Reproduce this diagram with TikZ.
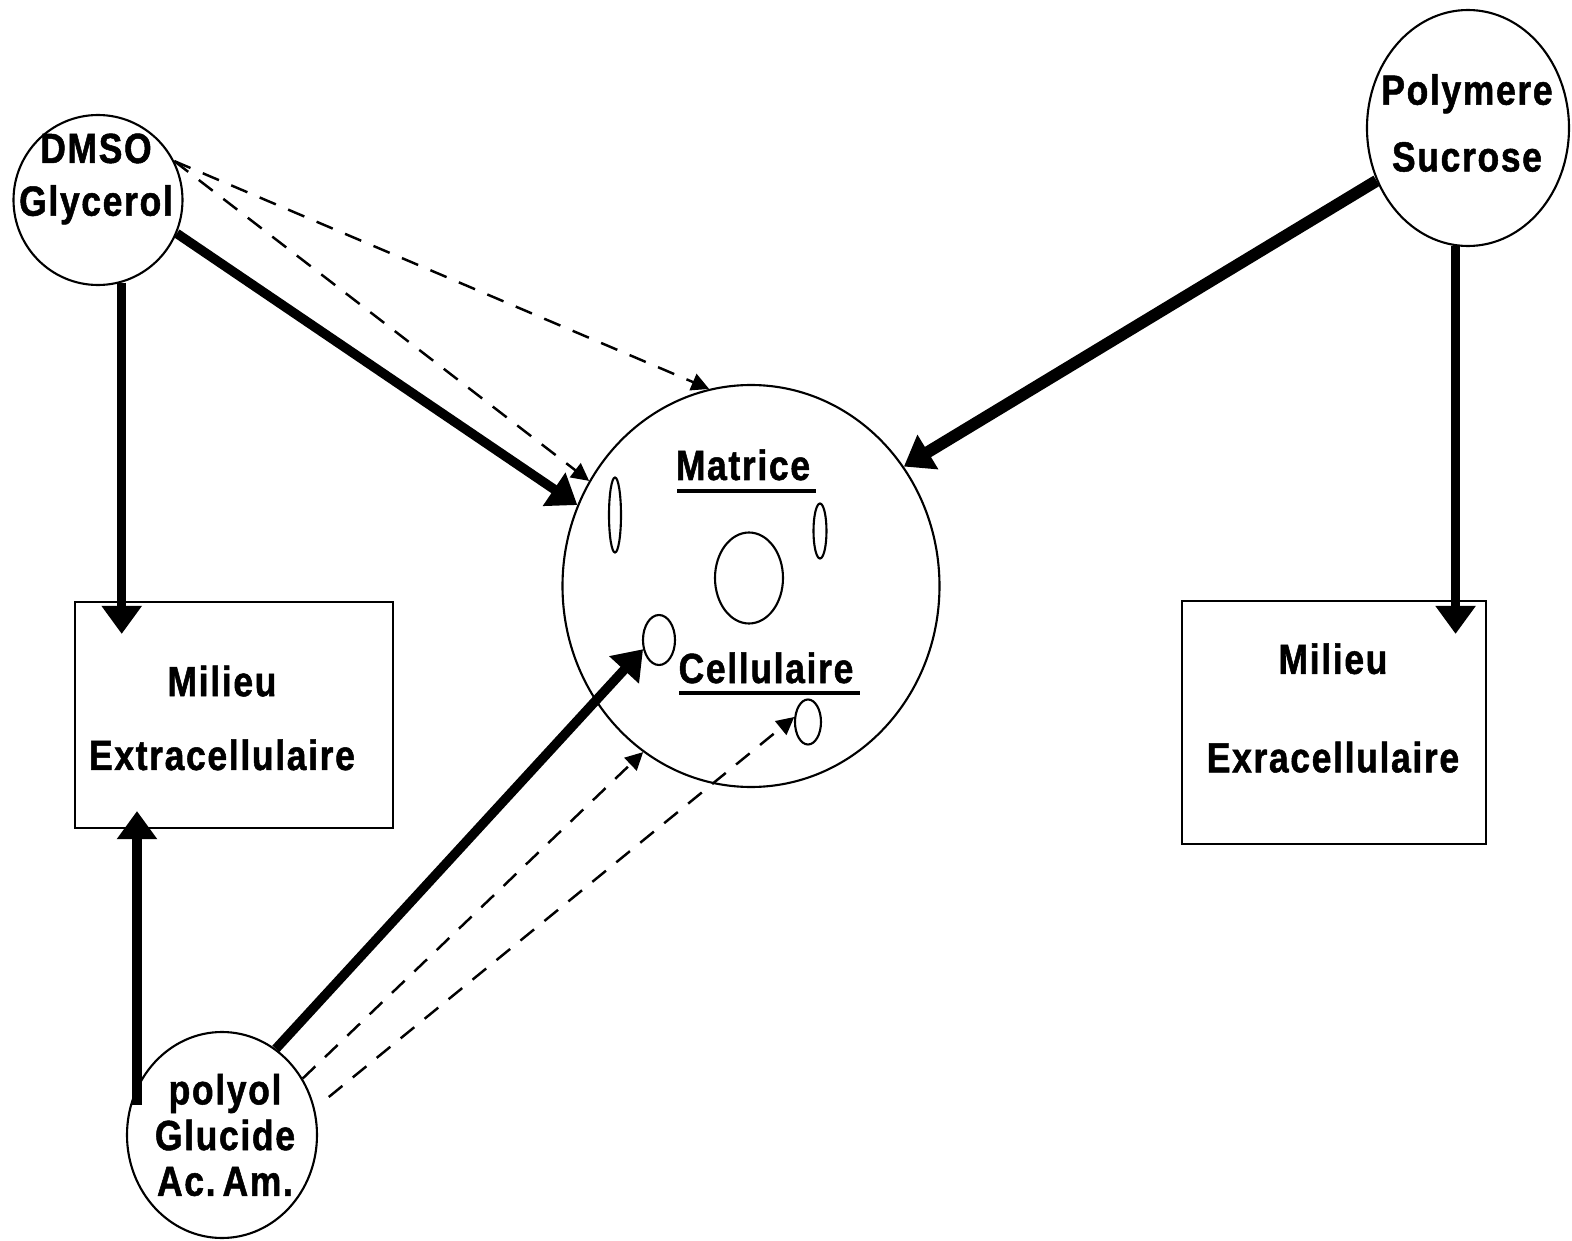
\documentclass[tikz,border=0pt]{standalone}
\usepackage{fontspec}
\setmainfont{Liberation Sans}[FakeStretch=0.84, LetterSpace=4, BoldFeatures={FakeBold=1.2}]
\usetikzlibrary{shapes.geometric,arrows.meta}

\tikzset{
    blob/.style={draw, ellipse, line width=0.6pt, inner sep=0pt},
    lbl/.style={font=\fontsize{12}{14}\selectfont\bfseries, align=center, inner sep=0pt},
    bigarrow/.style={line width=2.7pt, -{Triangle[length=8pt,width=11pt]}},
    dasharrow/.style={line width=0.7pt, dash pattern=on 5pt off 3.8pt, -{Triangle[length=5pt,width=5pt]}}
}

\begin{document}
\begin{tikzpicture}
\useasboundingbox (0,0) rectangle (15.72,12.40);

    \node[blob, minimum width=1.69cm, minimum height=1.70cm] (dmso) at (0.98,10.40) {};
    \node[blob, minimum width=2.02cm, minimum height=2.36cm] (poly) at (14.68,11.12) {};
    \node[blob, minimum width=1.90cm, minimum height=2.06cm] (polyol) at (2.22,1.05) {};

    \node[lbl] (dmsotxt) at (0.96,10.61) {DMSO\\[1pt]Glycerol};
    \node[lbl] (polytxt) at (14.67,11.17) {Polymere\\[5pt]Sucrose};
    \node[lbl] (polyoltxt) at (2.25,1.05) {polyol\\[-1pt]Glucide\\[-1pt]Ac.\,Am.};

    \node[draw, line width=0.6pt, minimum width=3.18cm, minimum height=2.26cm] (boxL) at (2.34,5.25) {};
    \node[draw, line width=0.6pt, minimum width=3.04cm, minimum height=2.43cm] (boxR) at (13.34,5.175) {};
    \node[lbl] (boxLtxt) at (2.22,5.22) {Milieu\\[7pt]Extracellulaire};
    \node[lbl] (boxRtxt) at (13.33,5.32) {Milieu\\[14pt]Exracellulaire};

    \node[blob, minimum width=3.77cm, minimum height=4.02cm] (cell) at (7.51,6.54) {};
    \node[blob, minimum width=0.68cm, minimum height=0.91cm] (nucleus) at (7.49,6.62) {};
    \node[blob, minimum width=0.12cm, minimum height=0.75cm] (vac1) at (6.15,7.25) {};
    \node[blob, minimum width=0.13cm, minimum height=0.55cm] (vac2) at (8.20,7.09) {};
    \node[blob, minimum width=0.32cm, minimum height=0.50cm] (ves1) at (6.59,6.00) {};
    \node[blob, minimum width=0.26cm, minimum height=0.45cm] (ves2) at (8.08,5.18) {};

    \node[lbl, anchor=base] (matrice) at (7.43,7.60) {Matrice};
    \node[lbl, anchor=base] (cellulaire) at (7.66,5.57) {Cellulaire};
    \draw[line width=1pt] (6.77,7.49) -- (8.16,7.49);
    \draw[line width=1pt] (6.79,5.47) -- (8.60,5.47);

\draw[bigarrow] (dmso.-74) -- ([yshift=-3.3mm]dmso.-74 |- boxL.north);
\draw[bigarrow] (dmso.-23) -- (cell.155);
\draw[dasharrow] (dmso.27) -- (cell.102);
\draw[dasharrow] (dmso.27) -- (cell.147);

\draw[bigarrow, line width=3.4pt] (poly.210) -- (cell.38);
\draw[bigarrow] (poly.-96) -- ([yshift=-3.4mm]poly.-96 |- boxR.north);

\coordinate (up) at ([xshift=0.7mm]polyol.162);
\draw[bigarrow] (up) -- ([yshift=1.8mm]up |- boxL.south);
\draw[bigarrow] (polyol.58) -- (ves1.210);
\draw[dasharrow] (polyol.35) -- (cell.237);
\draw[dasharrow, shorten <=1.8mm] (polyol.16) -- (ves2.160);
\end{tikzpicture}
\end{document}
